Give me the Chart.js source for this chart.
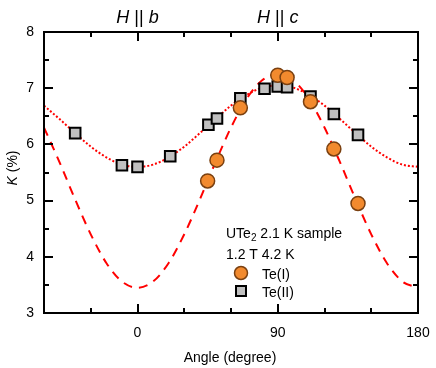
<!DOCTYPE html>
<html>
<head>
<meta charset="utf-8">
<script src="https://cdn.jsdelivr.net/npm/chart.js@4.4.0/dist/chart.umd.min.js"></script>
<style>
  html, body { margin: 0; padding: 0; background: #fff; }
  #wrap { width: 436px; height: 368px; }
</style>
</head>
<body>
<div id="wrap"><canvas id="chart" width="436" height="368"></canvas></div>
<script>
// measured points
const teIAngle = [45, 51, 66, 90, 96, 111, 126, 141.5];
const teIK = [5.35, 5.72, 6.65, 7.23, 7.19, 6.76, 5.92, 4.95];
const teIIAngle = [-40, -10, 0, 21, 45.5, 51, 66, 81.5, 90, 96, 111, 126, 141.5];
const teIIK = [6.2, 5.63, 5.6, 5.79, 6.35, 6.46, 6.82, 6.99, 7.03, 7.02, 6.85, 6.54, 6.17];

// fit curves, every 10 degrees
const curveAngle = [-60, -50, -40, -30, -20, -10, 0, 10, 20, 30, 40, 50, 60, 70, 80, 90, 100, 110, 120, 130, 140, 150, 160, 170, 180];
const fitTeI = [6.30, 5.68, 5.02, 4.40, 3.89, 3.56, 3.45, 3.56, 3.89, 4.40, 5.02, 5.68, 6.30, 6.81, 7.14, 7.25, 7.14, 6.81, 6.30, 5.68, 5.02, 4.40, 3.89, 3.56, 3.45];
const fitTeII = [6.69, 6.45, 6.20, 5.96, 5.77, 5.64, 5.60, 5.64, 5.77, 5.96, 6.20, 6.45, 6.69, 6.88, 7.01, 7.05, 7.01, 6.88, 6.69, 6.45, 6.20, 5.96, 5.77, 5.64, 5.60];

// axis ticks
const xLabels = [0, 90, 180];
const xMinor = [-30, 30, 60, 120, 150];
const yLabels = [3, 4, 5, 6, 7, 8];
const yMinor = [3.5, 4.5, 5.5, 6.5, 7.5];

const FONT = '"Liberation Sans", Arial, Helvetica, sans-serif';

function pts(xs, ys) {
    return xs.map((x, i) => ({ x: x, y: ys[i] }));
}

// draw a run of text pieces, some italic, starting at x
function drawRuns(ctx, runs, x, y, size, align) {
    let total = 0;
    runs.forEach(r => {
        ctx.font = (r.italic ? 'italic ' : '') + (r.size || size) + 'px ' + FONT;
        r.w = ctx.measureText(r.text).width;
        total += r.w;
    });
    let cx = align === 'center' ? x - total / 2 : x;
    ctx.textAlign = 'left';
    ctx.textBaseline = 'alphabetic';
    runs.forEach(r => {
        ctx.font = (r.italic ? 'italic ' : '') + (r.size || size) + 'px ' + FONT;
        ctx.fillText(r.text, cx, y + (r.dy || 0));
        cx += r.w;
    });
}

const framePlugin = {
    id: 'frame',
    afterDraw(chart) {
        const ctx = chart.ctx;
        const a = chart.chartArea;
        const xs = chart.scales.x;
        const ys = chart.scales.y;
        ctx.save();
        ctx.strokeStyle = '#000';
        ctx.fillStyle = '#000';

        // ticks, pointing inward on all four sides
        ctx.lineWidth = 2;
        ctx.beginPath();
        xLabels.concat(xMinor).forEach(v => {
            const len = xLabels.includes(v) ? 9 : 5;
            const px = Math.round(xs.getPixelForValue(v));
            ctx.moveTo(px, a.bottom); ctx.lineTo(px, a.bottom - len);
            ctx.moveTo(px, a.top); ctx.lineTo(px, a.top + len);
        });
        yLabels.concat(yMinor).forEach(v => {
            const len = yLabels.includes(v) ? 9 : 5;
            const py = Math.round(ys.getPixelForValue(v));
            ctx.moveTo(a.left, py); ctx.lineTo(a.left + len, py);
            ctx.moveTo(a.right, py); ctx.lineTo(a.right - len, py);
        });
        ctx.stroke();

        // frame
        ctx.lineWidth = 2;
        ctx.strokeRect(a.left, a.top, a.right - a.left, a.bottom - a.top);

        // field direction labels
        drawRuns(ctx, [{ text: 'H', italic: true }, { text: ' || ' }, { text: 'b', italic: true }],
            xs.getPixelForValue(0), 23, 18, 'center');
        drawRuns(ctx, [{ text: 'H', italic: true }, { text: ' || ' }, { text: 'c', italic: true }],
            xs.getPixelForValue(90), 23, 18, 'center');

        // axis titles
        ctx.font = '14px ' + FONT;
        ctx.textAlign = 'center';
        ctx.fillText('Angle (degree)', 230, 362);
        ctx.save();
        ctx.translate(17, 168);
        ctx.rotate(-Math.PI / 2);
        drawRuns(ctx, [{ text: 'K', italic: true }, { text: ' (%)' }], 0, 0, 14, 'center');
        ctx.restore();

        // legend block
        drawRuns(ctx, [{ text: 'UTe' }, { text: '2', size: 10, dy: 3 }, { text: ' 2.1 K sample' }], 226, 238, 14, 'left');
        drawRuns(ctx, [{ text: '1.2 T 4.2 K' }], 226, 259, 14, 'left');
        drawRuns(ctx, [{ text: 'Te(I)' }], 262, 279, 14, 'left');
        drawRuns(ctx, [{ text: 'Te(II)' }], 262, 297, 14, 'left');

        ctx.beginPath();
        ctx.arc(241, 273, 6.5, 0, Math.PI * 2);
        ctx.fillStyle = '#F28A2E';
        ctx.fill();
        ctx.lineWidth = 1.5;
        ctx.strokeStyle = '#7A4010';
        ctx.stroke();

        ctx.fillStyle = '#C0C0C0';
        ctx.fillRect(236, 286, 10, 10);
        ctx.lineWidth = 2;
        ctx.strokeStyle = '#000';
        ctx.strokeRect(236, 286, 10, 10);
        ctx.restore();
    }
};

const ctx = document.getElementById('chart').getContext('2d');
const chart = new Chart(ctx, {
    type: 'scatter',
    data: {
        datasets: [
            {
                label: 'Te(I)',
                data: pts(teIAngle, teIK),
                pointStyle: 'circle',
                pointRadius: 7,
                pointBackgroundColor: '#F28A2E',
                pointBorderColor: '#7A4010',
                pointBorderWidth: 1.5,
                showLine: false,
                order: 0,
            },
            {
                label: 'Te(II)',
                data: pts(teIIAngle, teIIK),
                pointStyle: 'rect',
                pointRadius: 7.5,
                pointBackgroundColor: '#C0C0C0',
                pointBorderColor: '#000',
                pointBorderWidth: 2,
                showLine: false,
                order: 1,
            },
            {
                label: 'fit Te(I)',
                data: pts(curveAngle, fitTeI),
                showLine: true,
                pointRadius: 0,
                borderColor: '#FF0000',
                borderWidth: 2,
                borderDash: [9, 7],
                cubicInterpolationMode: 'monotone',
                order: 2,
            },
            {
                label: 'fit Te(II)',
                data: pts(curveAngle, fitTeII),
                showLine: true,
                pointRadius: 0,
                borderColor: '#FF0000',
                borderWidth: 2,
                borderDash: [2, 2],
                cubicInterpolationMode: 'monotone',
                order: 3,
            },
        ],
    },
    options: {
        responsive: false,
        animation: false,
        devicePixelRatio: 1,
        layout: { padding: { top: 32, right: 18, left: 0, bottom: 0 } },
        plugins: { legend: { display: false }, tooltip: { enabled: false } },
        scales: {
            x: {
                type: 'linear',
                min: -60,
                max: 180,
                grid: { display: false, drawTicks: false },
                border: { display: false },
                afterBuildTicks: s => { s.ticks = xLabels.map(v => ({ value: v })); },
                afterFit: s => { s.height = 55; s.paddingLeft = 0; s.paddingRight = 0; },
                ticks: { autoSkip: false, maxRotation: 0, padding: 12, color: '#000', font: { family: FONT, size: 14 } },
            },
            y: {
                type: 'linear',
                min: 3,
                max: 8,
                grid: { display: false, drawTicks: false },
                border: { display: false },
                afterBuildTicks: s => { s.ticks = yLabels.map(v => ({ value: v })); },
                afterFit: s => { s.width = 44; s.paddingTop = 0; s.paddingBottom = 0; },
                ticks: { autoSkip: false, padding: 10, color: '#000', font: { family: FONT, size: 14 } },
            },
        },
    },
    plugins: [framePlugin],
});
</script>
</body>
</html>
